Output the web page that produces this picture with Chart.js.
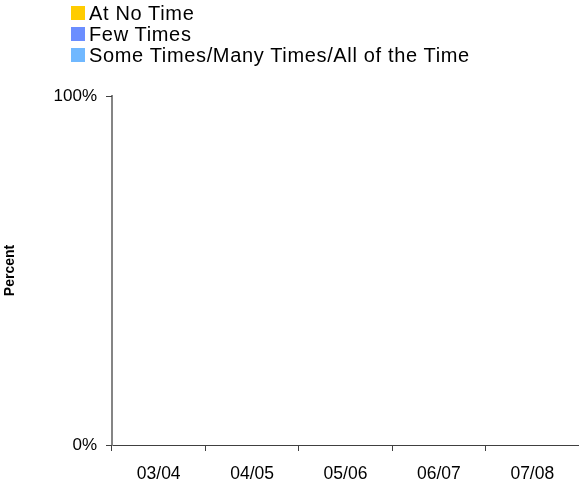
<!DOCTYPE html>
<html>
<head>
<meta charset="utf-8">
<script src="https://cdn.jsdelivr.net/npm/chart.js@4/dist/chart.umd.min.js"></script>
<style>
  html, body { margin: 0; padding: 0; background: #fff; }
  #wrap { position: relative; width: 579px; height: 483px; overflow: hidden; }
  #c { position: absolute; left: 0; top: 0; }
  #legend { position: absolute; left: 71px; top: 0; font-family: "Liberation Sans", Arial, sans-serif; font-size: 20px; letter-spacing: 0.65px; color: #000; }
  .item { position: absolute; left: 0; white-space: nowrap; height: 21px; }
  .box { position: absolute; left: 0; width: 14px; height: 14px; }
  .lbl { position: absolute; left: 18px; line-height: 20px; }
</style>
</head>
<body>
<div id="wrap">
  <canvas id="c" width="579" height="483"></canvas>
  <div id="legend"></div>
</div>
<script>
// ---- data ----
const categories = ["03/04", "04/05", "05/06", "06/07", "07/08"];
const seriesNames = ["At No Time", "Few Times", "Some Times/Many Times/All of the Time"];
const seriesColors = ["#FFCC00", "#6B8EFF", "#70B8FF"];
const atNoTime = [0, 0, 0, 0, 0];
const fewTimes = [0, 0, 0, 0, 0];
const someManyAll = [0, 0, 0, 0, 0];
const yTicks = [0, 100];
const yTitle = "Percent";

const seriesValues = [atNoTime, fewTimes, someManyAll];

// ---- legend (HTML) ----
const legend = document.getElementById('legend');
const rowTops = [6, 27, 48];
seriesNames.forEach((name, i) => {
  const it = document.createElement('div');
  it.className = 'item';
  it.style.top = rowTops[i] + 'px';
  const b = document.createElement('div');
  b.className = 'box';
  b.style.background = seriesColors[i];
  const t = document.createElement('div');
  t.className = 'lbl';
  t.style.top = '-3px';
  t.textContent = name;
  it.appendChild(b); it.appendChild(t);
  legend.appendChild(it);
});

// y-axis tick marks drawn through the library's scale
const yTickMarks = {
  id: 'yTickMarks',
  afterDraw(chart) {
    const s = chart.scales.y;
    const ctx = chart.ctx;
    const x = chart.chartArea.left;
    ctx.save();
    ctx.strokeStyle = '#404040';
    ctx.lineWidth = 1;
    s.ticks.forEach(t => {
      const y = Math.round(s.getPixelForValue(t.value)) + 0.5;
      ctx.beginPath();
      ctx.moveTo(x - 6, y);
      ctx.lineTo(x, y);
      ctx.stroke();
    });
    ctx.restore();
  }
};

// ---- chart ----
const FONT = "'Liberation Sans', Arial, sans-serif";
new Chart(document.getElementById('c'), {
  type: 'bar',
  data: {
    labels: categories,
    datasets: seriesNames.map((n, i) => ({
      label: n,
      data: seriesValues[i],
      backgroundColor: seriesColors[i],
      borderWidth: 0,
      barPercentage: 0.6,
      categoryPercentage: 1
    }))
  },
  plugins: [yTickMarks],
  options: {
    responsive: false,
    animation: false,
    events: [],
    layout: { padding: { top: 96, left: 0, right: 0, bottom: 0 } },
    plugins: { legend: { display: false }, tooltip: { enabled: false } },
    scales: {
      x: {
        stacked: true,
        offset: true,
        grid: { offset: true, drawOnChartArea: false, drawTicks: true, tickLength: 6, color: '#404040', lineWidth: 1 },
        border: { display: true, color: '#404040', width: 1 },
        ticks: { color: '#000', font: { family: FONT, size: 17.5 }, padding: 13, maxRotation: 0, autoSkip: false },
        afterFit: s => { s.height = 38; }
      },
      y: {
        stacked: true,
        min: 0,
        max: 100,
        afterBuildTicks: s => { s.ticks = yTicks.map(v => ({ value: v })); },
        ticks: { color: '#000', font: { family: FONT, size: 17 }, padding: 9, callback: v => v + '%' },
        grid: { drawOnChartArea: false, drawTicks: true, tickLength: 6, color: '#404040', lineWidth: 1 },
        border: { display: true, color: '#858585', width: 2 },
        title: { display: true, text: yTitle, color: '#000', font: { family: FONT, size: 14, weight: 'bold' }, padding: { top: 2, bottom: 0 } },
        afterFit: s => { s.width = 112; }
      }
    }
  }
});
</script>
</body>
</html>
